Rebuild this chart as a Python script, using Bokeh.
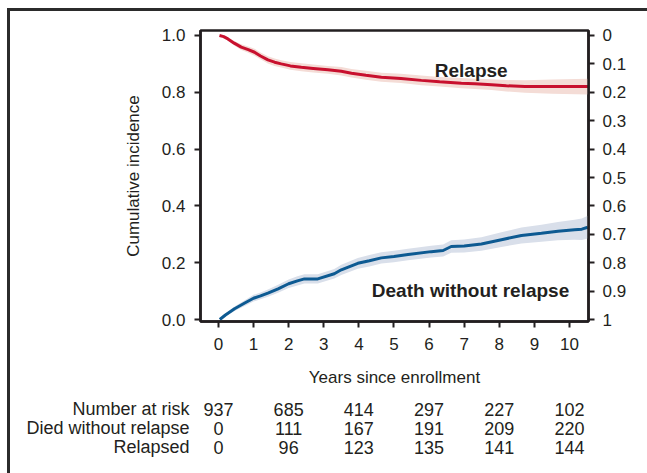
from bokeh.plotting import figure
from bokeh.layouts import column
from bokeh.models import Range1d, LinearAxis, FixedTicker, PrintfTickFormatter
from bokeh.core.properties import value
from bokeh.embed import file_html
from bokeh.resources import INLINE

# ---- data ----
relapse_t = [0.03, 0.15, 0.27, 0.45, 0.65, 0.85, 1.03, 1.2, 1.41, 1.6, 1.79, 2.05, 2.36, 2.7, 3.12, 3.5, 3.79, 4.2, 4.64, 5.2, 5.78, 6.3, 6.92, 7.3, 7.78, 8.2, 8.73, 9.5, 10.53]
relapse_ci = [0.0, 0.004, 0.012, 0.027, 0.041, 0.05, 0.059, 0.072, 0.086, 0.094, 0.10, 0.107, 0.112, 0.116, 0.121, 0.126, 0.133, 0.14, 0.147, 0.151, 0.158, 0.163, 0.168, 0.17, 0.173, 0.177, 0.18, 0.18, 0.18]
relapse_hw = [0.0, 0.004, 0.006, 0.008, 0.01, 0.011, 0.012, 0.012, 0.013, 0.013, 0.013, 0.014, 0.014, 0.014, 0.014, 0.015, 0.015, 0.016, 0.016, 0.016, 0.017, 0.017, 0.018, 0.018, 0.019, 0.02, 0.022, 0.025, 0.028]

death_t = [0.04, 0.2, 0.46, 0.75, 1.0, 1.2, 1.41, 1.7, 2.0, 2.25, 2.45, 2.83, 3.3, 3.5, 3.97, 4.3, 4.64, 5.0, 5.4, 6.06, 6.4, 6.63, 7.0, 7.49, 8.06, 8.63, 9.2, 9.67, 10.14, 10.35, 10.52]
death_ci = [0.0, 0.016, 0.038, 0.058, 0.075, 0.083, 0.093, 0.108, 0.126, 0.136, 0.143, 0.143, 0.161, 0.175, 0.198, 0.207, 0.217, 0.222, 0.229, 0.239, 0.243, 0.257, 0.259, 0.266, 0.281, 0.296, 0.304, 0.311, 0.316, 0.318, 0.325]
death_hw = [0.0, 0.005, 0.008, 0.01, 0.012, 0.012, 0.013, 0.014, 0.015, 0.016, 0.016, 0.016, 0.017, 0.018, 0.019, 0.02, 0.02, 0.02, 0.02, 0.021, 0.021, 0.022, 0.023, 0.024, 0.026, 0.028, 0.03, 0.032, 0.035, 0.038, 0.04]

x_ticks = [0, 1, 2, 3, 4, 5, 6, 7, 8, 9, 10]
left_ticks = [0.0, 0.2, 0.4, 0.6, 0.8, 1.0]
right_ticks = [0, 0.1, 0.2, 0.3, 0.4, 0.5, 0.6, 0.7, 0.8, 0.9, 1]
right_labels = ["0", "0.1", "0.2", "0.3", "0.4", "0.5", "0.6", "0.7", "0.8", "0.9", "1"]

table_years = [0, 2, 4, 6, 8, 10]
row_names = ["Number at risk", "Died without relapse", "Relapsed"]
row_index = [0, 1, 2]
at_risk = [937, 685, 414, 297, 227, 102]
died = [0, 111, 167, 191, 209, 220]
relapsed = [0, 96, 123, 135, 141, 144]

DARK = "#231f20"
RED = "#c8102e"
RED_BAND = "#f4dcd6"
BLUE = "#0d5a92"
BLUE_BAND = "#d9dfea"
FONT = "Liberation Sans"

# ---------------- main chart ----------------
p = figure(width=637, height=381,
           x_range=Range1d(-0.51, 10.54), y_range=Range1d(-0.007, 1.0176),
           output_backend="svg", toolbar_location=None,
           min_border_left=190, min_border_right=59, min_border_top=19, min_border_bottom=71)
p.frame_align = False
p.extra_y_ranges = {"rel": Range1d(1.007, -0.0176)}

p.grid.visible = False
p.outline_line_color = DARK
p.outline_line_width = 2.5
p.background_fill_color = "white"
p.border_fill_color = "white"

r_lo = [c - h for c, h in zip(relapse_ci, relapse_hw)]
r_hi = [c + h for c, h in zip(relapse_ci, relapse_hw)]
d_lo = [c - h for c, h in zip(death_ci, death_hw)]
d_hi = [c + h for c, h in zip(death_ci, death_hw)]
p.varea(x=relapse_t, y1=r_lo, y2=r_hi, fill_color=RED_BAND, y_range_name="rel")
p.varea(x=death_t, y1=d_lo, y2=d_hi, fill_color=BLUE_BAND)
p.line(relapse_t, relapse_ci, line_color=RED, line_width=3, y_range_name="rel")
p.line(death_t, death_ci, line_color=BLUE, line_width=3)

p.text(x=[7.2], y=[0.877], text=["Relapse"], text_align="center", text_baseline="alphabetic",
       text_font=value(FONT), text_font_style="bold", text_font_size="19px", text_color=DARK)
p.text(x=[7.18], y=[0.102], text=["Death without relapse"], text_align="center", text_baseline="alphabetic",
       text_font=value(FONT), text_font_style="bold", text_font_size="19px", text_color=DARK)

def style_axis(ax):
    ax.axis_line_color = DARK
    ax.axis_line_width = 2.5
    ax.major_tick_line_color = DARK
    ax.major_tick_line_width = 2
    ax.major_tick_out = 6
    ax.major_tick_in = 0
    ax.minor_tick_line_color = None
    ax.major_label_text_font = FONT
    ax.major_label_text_font_size = "17px"
    ax.major_label_text_color = DARK
    ax.axis_label_text_font = FONT
    ax.axis_label_text_font_size = "17px"
    ax.axis_label_text_font_style = "normal"
    ax.axis_label_text_color = DARK

xa = p.xaxis[0]
style_axis(xa)
xa.ticker = FixedTicker(ticks=x_ticks)
xa.axis_label = "Years since enrollment"
xa.major_label_standoff = 10
xa.axis_label_standoff = 15

ya = p.yaxis[0]
style_axis(ya)
ya.ticker = FixedTicker(ticks=left_ticks)
ya.formatter = PrintfTickFormatter(format="%.1f")
ya.axis_label = "Cumulative incidence"
ya.major_label_standoff = 9
ya.axis_label_standoff = 16

ra = LinearAxis(y_range_name="rel", ticker=FixedTicker(ticks=right_ticks),
                major_label_overrides={t: l for t, l in zip(right_ticks, right_labels)})
style_axis(ra)
ra.major_label_standoff = 8
p.add_layout(ra, "right")

# ---------------- risk table (same x scale as the chart) ----------------
px_per_year = 388 / (10.54 + 0.51)
t = figure(width=637, height=81,
           x_range=Range1d(-0.51 - 190 / px_per_year, 10.54 + 59 / px_per_year),
           y_range=Range1d(3.37, -0.89),
           output_backend="svg", toolbar_location=None,
           min_border_left=0, min_border_right=0, min_border_top=0, min_border_bottom=0)
t.frame_align = False
t.axis.visible = False
t.grid.visible = False
t.outline_line_color = None

label_x = -0.823  # right edge of the row titles, just left of the y axis
t.text(x=[label_x] * 3, y=row_index, text=row_names, text_align="right", text_baseline="alphabetic",
       text_font=value(FONT), text_font_size="18px", text_color=DARK)
for i, vals in zip(row_index, [at_risk, died, relapsed]):
    t.text(x=table_years, y=[i] * len(vals), text=[str(v) for v in vals], text_align="center",
           text_baseline="alphabetic", text_font=value(FONT), text_font_size="18px", text_color=DARK)

layout = column(p, t, spacing=0,
                styles={"border-top": "3px solid #2b2b2b", "border-left": "3px solid #2b2b2b",
                        "margin-left": "7px", "margin-top": "8px"})

open("out.html", "w").write(file_html(layout, INLINE))
